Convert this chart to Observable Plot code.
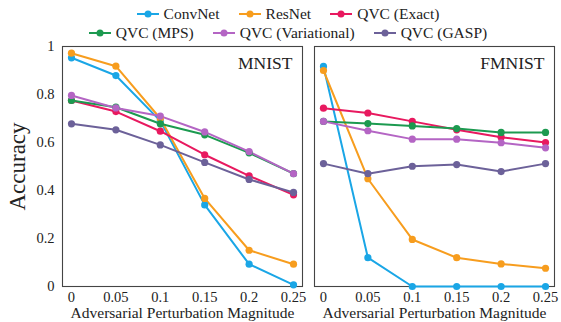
<!DOCTYPE html>
<html>
<head>
<meta charset="utf-8">
<script src="https://cdn.jsdelivr.net/npm/d3@7"></script>
<script src="https://cdn.jsdelivr.net/npm/@observablehq/plot@0.6"></script>
<style>
  html, body { margin: 0; padding: 0; background: #fff; }
  body { width: 561px; height: 322px; overflow: hidden; font-family: "Liberation Serif", serif; }
  #legend { height: 34px; box-sizing: border-box; padding-top: 4px; padding-left: 14px; font-size: 15.5px; color: #222; }
  .row { display: flex; justify-content: center; align-items: center; height: 19px; gap: 18px; }
  .item { display: flex; align-items: center; gap: 4px; white-space: nowrap; }
  .item svg { display: block; }
  #chart svg { display: block; overflow: visible; }
  g[aria-label="y-axis label"] text { font-size: 23px; }
</style>
</head>
<body>
<div id="legend"></div>
<div id="chart"></div>
<script>
const datasets = ["MNIST", "FMNIST"];
const eps = [0, 0.05, 0.1, 0.15, 0.2, 0.25];
const seriesNames = ["ConvNet", "ResNet", "QVC (Exact)", "QVC (MPS)", "QVC (Variational)", "QVC (GASP)"];
const seriesColors = ["#1aa6e6", "#f79d1e", "#e8195f", "#1c9a50", "#b465c4", "#6c6199"];

const mnistConvNet     = [0.953, 0.879, 0.690, 0.340, 0.093, 0.007];
const mnistResNet      = [0.972, 0.918, 0.700, 0.367, 0.151, 0.093];
const mnistExact       = [0.775, 0.729, 0.647, 0.549, 0.461, 0.382];
const mnistMPS         = [0.775, 0.747, 0.678, 0.632, 0.557, 0.470];
const mnistVariational = [0.796, 0.744, 0.710, 0.644, 0.562, 0.470];
const mnistGASP        = [0.678, 0.653, 0.590, 0.517, 0.446, 0.392];

const fmnistConvNet     = [0.917, 0.120, 0.000, 0.000, 0.000, 0.000];
const fmnistResNet      = [0.900, 0.449, 0.196, 0.120, 0.094, 0.076];
const fmnistExact       = [0.743, 0.723, 0.688, 0.653, 0.622, 0.600];
const fmnistMPS         = [0.688, 0.679, 0.669, 0.658, 0.642, 0.642];
const fmnistVariational = [0.688, 0.649, 0.614, 0.614, 0.599, 0.578];
const fmnistGASP        = [0.512, 0.470, 0.501, 0.508, 0.479, 0.512];

const yTicks = [0, 0.2, 0.4, 0.6, 0.8, 1];
const xLabel = "Adversarial Perturbation Magnitude";
const yLabel = "Accuracy";

const values = {
  MNIST: [mnistConvNet, mnistResNet, mnistExact, mnistMPS, mnistVariational, mnistGASP],
  FMNIST: [fmnistConvNet, fmnistResNet, fmnistExact, fmnistMPS, fmnistVariational, fmnistGASP]
};

const rows = [];
for (const ds of datasets) {
  seriesNames.forEach((s, i) => {
    eps.forEach((e, j) => rows.push({ds, series: s, eps: e, acc: values[ds][i][j]}));
  });
}

// Legend
const legend = document.getElementById("legend");
const legendRows = [seriesNames.slice(0, 3), seriesNames.slice(3)];
legendRows.forEach(names => {
  const r = document.createElement("div");
  r.className = "row";
  names.forEach(n => {
    const c = seriesColors[seriesNames.indexOf(n)];
    const it = document.createElement("div");
    it.className = "item";
    it.innerHTML = `<svg width="24" height="10"><line x1="1" y1="5" x2="23" y2="5" stroke="${c}" stroke-width="2"/><circle cx="12" cy="5" r="3.5" fill="${c}"/></svg><span>${n}</span>`;
    r.appendChild(it);
  });
  legend.appendChild(r);
});

const titles = datasets.map(d => ({ds: d, label: d}));

const chart = Plot.plot({
  width: 561,
  height: 288,
  marginTop: 12,
  marginBottom: 36,
  marginLeft: 61,
  marginRight: 6,
  style: {fontFamily: "Liberation Serif, serif", fontSize: "14.5px", color: "#222", background: "#fff"},
  fx: {domain: datasets, paddingInner: 0.0474, paddingOuter: 0, axis: null, label: null},
  x: {domain: [-0.0101, 0.2601], label: null},
  y: {domain: [0, 1], label: null},
  color: {domain: seriesNames, range: seriesColors},
  marks: [
    Plot.frame({stroke: "#444", strokeWidth: 1.1}),
    Plot.axisX({ticks: eps, tickFormat: d => String(d), tickSize: 0, tickPadding: 5, label: null}),
    Plot.axisY({ticks: yTicks, tickFormat: d => String(d), tickSize: 0, tickPadding: 8, label: yLabel, labelAnchor: "center", labelArrow: "none", labelOffset: 54}),
    Plot.line(rows, {fx: "ds", x: "eps", y: "acc", z: "series", stroke: "series", strokeWidth: 2}),
    Plot.dot(rows, {fx: "ds", x: "eps", y: "acc", fill: "series", r: 3.6, stroke: "none"}),
    Plot.text(titles, {fx: "ds", text: "label", frameAnchor: "top-right", dx: -10, dy: 17, fontSize: 17.5, fill: "#222", lineAnchor: "middle"}),
    Plot.text(titles, {fx: "ds", text: () => xLabel, frameAnchor: "bottom", dy: 27, fontSize: 15.5, fill: "#222", lineAnchor: "middle"})
  ]
});
document.getElementById("chart").appendChild(chart);
</script>
</body>
</html>
